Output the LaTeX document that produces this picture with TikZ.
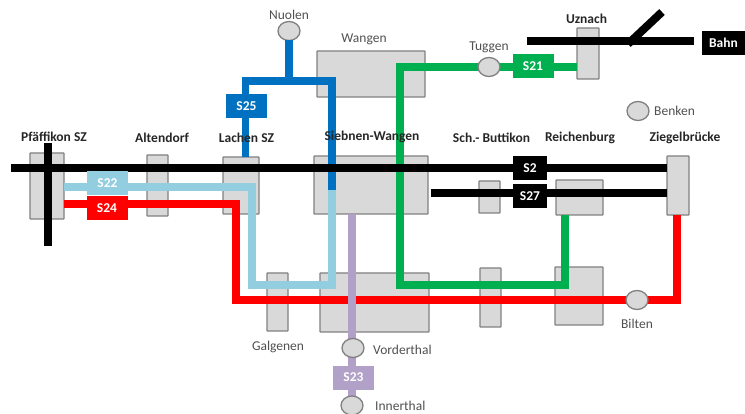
\documentclass[tikz,border=0pt]{standalone}
\usepackage{fontspec}
\setmainfont{Carlito}
\usepackage{tikz}
\usetikzlibrary{positioning,shapes.geometric}
\definecolor{boxgray}{RGB}{217,217,217}
\definecolor{edgegray}{RGB}{128,128,128}
\definecolor{textgray}{RGB}{80,80,80}
\definecolor{lineblue}{RGB}{0,112,192}
\definecolor{linesky}{RGB}{146,205,224}
\definecolor{linegreen}{RGB}{0,176,80}
\definecolor{linepurple}{RGB}{177,160,199}
\tikzset{
  stationbox/.style={draw=edgegray, fill=boxgray, line width=1.3pt, rounded corners=0.5pt, inner sep=0pt, outer sep=0pt},
  halt/.style={draw=edgegray, fill=boxgray, line width=1.3pt, ellipse, minimum width=22pt, minimum height=19pt, inner sep=0pt, outer sep=0pt},
  mainlabel/.style={font=\bfseries\fontsize{13.5}{15}\selectfont, text=black!85, inner sep=0pt},
  haltlabel/.style={font=\fontsize{13.5}{15}\selectfont, text=textgray, inner sep=0pt},
  linetag/.style={font=\bfseries\fontsize{13.5}{15}\selectfont, text=white, minimum width=41pt, minimum height=24pt, inner sep=0pt, outer sep=0pt},
  railline/.style={line width=8pt, line join=miter}
}
\begin{document}
\begin{tikzpicture}[x=1pt, y=-1pt]
  \useasboundingbox (0,0) rectangle (745,414);
  % stations
  \node[stationbox, minimum width=34pt, minimum height=66pt] (pfaeffikon) at (47,186) {};
  \node[stationbox, minimum width=21pt, minimum height=61pt] (altendorf) at (157.5,185.5) {};
  \node[stationbox, minimum width=36pt, minimum height=57pt] (lachen) at (241,185.5) {};
  \node[stationbox, minimum width=21pt, minimum height=58pt] (galgenen) at (277.5,302) {};
  \node[stationbox, minimum width=114pt, minimum height=58pt] (siebnen) at (371,185) {};
  \node[stationbox, minimum width=108pt, minimum height=46pt] (wangen) at (371,74) {};
  \node[stationbox, minimum width=109pt, minimum height=59pt] (siebnenlow) at (374.5,302.5) {};
  \node[stationbox, minimum width=21pt, minimum height=32pt] (buttikon) at (489.5,197) {};
  \node[stationbox, minimum width=21pt, minimum height=59pt] (buttikonlow) at (490.5,297.5) {};
  \node[stationbox, minimum width=47pt, minimum height=35pt] (reichenburg) at (579.5,197.5) {};
  \node[stationbox, minimum width=48pt, minimum height=58pt] (reichenburglow) at (579,296) {};
  \node[stationbox, minimum width=22pt, minimum height=59pt] (ziegelbruecke) at (678,185.5) {};
  \node[stationbox, minimum width=22pt, minimum height=51pt] (uznach) at (588,53.5) {};
  % bends and free ends
  \coordinate (mainstart) at (11,168);
  \coordinate (crosstop) at (48,143);
  \coordinate (crossend) at (48,246);
  \coordinate (s27start) at (431,193);
  \coordinate (bahnstart) at (527,41);
  \coordinate (bahnend) at (694,41);
  \coordinate (forkfoot) at (628,44);
  \coordinate (forktop) at (662,12);
  \coordinate (nuolenfork) at (289,81);
  \coordinate (blueleft) at (245.5,81);
  \coordinate (blueright) at (332,81);
  \coordinate (bluestop) at (332,190);
  \coordinate (skyend) at (251.5,187.5);
  \coordinate (skylow) at (251.5,285);
  \coordinate (skyright) at (332,285);
  \coordinate (redend) at (236,204);
  \coordinate (redlow) at (236,300);
  \coordinate (redcorner) at (677,300);
  \coordinate (greentop) at (400,67);
  \coordinate (greenlow) at (400,285);
  \coordinate (greencorner) at (565,285);
  % coloured lines
  \draw[railline, linesky] (pfaeffikon.east |- skyend) -- (skyend) -- (skylow) -- (skyright) -- (bluestop);
  \draw[railline, lineblue, line width=7.5pt] (nuolenfork) -- (blueleft) -- (blueleft |- lachen.north);
  \draw[railline, lineblue, line width=7.5pt] (nuolenfork) -- (blueright) -- (bluestop);
  \draw[railline, red] (pfaeffikon.east |- redend) -- (redend) -- (redlow) -- (redcorner) -- (redcorner |- ziegelbruecke.south);
  \draw[railline, linegreen] (uznach.west |- greentop) -- (greentop) -- (greenlow) -- (greencorner) -- (greencorner |- reichenburg.south);
  \draw[railline, linepurple] (352,214) -- (352,405);
  % halts
  \node[halt] (nuolen) at (289,31) {};
  \node[halt] (tuggen) at (489,67) {};
  \node[halt] (benken) at (638,111) {};
  \node[halt] (bilten) at (637,300) {};
  \node[halt] (vorderthal) at (353,348) {};
  \node[halt] (innerthal) at (352,405.5) {};
  \draw[railline, lineblue, line width=7.5pt] (nuolen) -- (nuolenfork);
  % black lines
  \draw[line width=8pt] (mainstart) -- (mainstart -| ziegelbruecke.west);
  \draw[line width=8pt] (crosstop) -- (crossend);
  \draw[line width=8pt] (s27start) -- (s27start -| ziegelbruecke.west);
  \draw[line width=8pt] (bahnstart) -- (bahnend);
  \draw[line width=8pt] (forkfoot) -- (forktop);
  % line tags
  \node[linetag, fill=linesky] (s22) at (107.5,183.5) {S22};
  \node[linetag, fill=red] (s24) at (107,208) {S24};
  \node[linetag, fill=lineblue] (s25) at (246.5,106) {S25};
  \node[linetag, fill=linepurple] (s23) at (353.5,377.5) {S23};
  \node[linetag, fill=linegreen] (s21) at (533,66.5) {S21};
  \node[linetag, fill=black, minimum width=34pt] (s2) at (530,168) {S2};
  \node[linetag, fill=black, minimum width=34pt] (s27) at (530,196) {S27};
  \node[linetag, fill=black, minimum width=43pt] (bahn) at (723.5,43) {Bahn};
  % station names
  \node[mainlabel] (pfaeffikontext) at (54,136.5) {Pfäffikon SZ};
  \node[mainlabel] (altendorftext) at (162,138) {Altendorf};
  \node[mainlabel] (lachentext) at (246.5,138) {Lachen SZ};
  \node[mainlabel] (siebnentext) at (372,137) {Siebnen-Wangen};
  \node[mainlabel] (buttikontext) at (491.5,138) {Sch.- Buttikon};
  \node[mainlabel] (reichenburgtext) at (580,138) {Reichenburg};
  \node[mainlabel] (ziegelbrueckentext) at (685,138) {Ziegelbrücke};
  \node[mainlabel] (uznachtext) at (586.5,19) {Uznach};
  \node[haltlabel, above=2pt of nuolen] (nuolentext) {Nuolen};
  \node[haltlabel] (wangentext) at (364,39) {Wangen};
  \node[haltlabel, above=4pt of tuggen] (tuggentext) {Tuggen};
  \node[haltlabel, right=5pt of benken] (benkentext) {Benken};
  \node[haltlabel, below=9pt of bilten] (biltentext) {Bilten};
  \node[haltlabel] (galgenentext) at (278,347) {Galgenen};
  \node[haltlabel, right=9pt of vorderthal, yshift=-2pt] (vorderthaltext) {Vorderthal};
  \node[haltlabel, right=12pt of innerthal, yshift=-0.5pt] (innerthaltext) {Innerthal};
\end{tikzpicture}
\end{document}
